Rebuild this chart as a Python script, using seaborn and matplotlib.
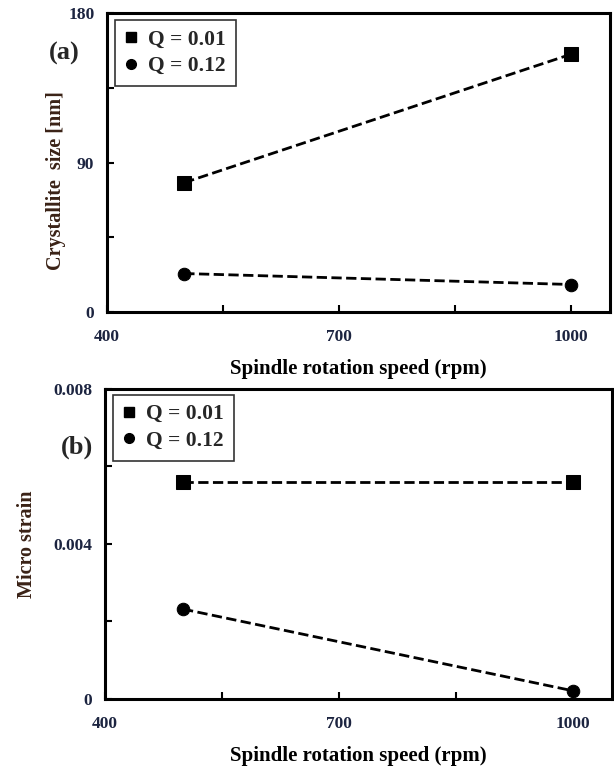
import matplotlib
matplotlib.use("Agg")
import matplotlib.pyplot as plt
from matplotlib.lines import Line2D
import pandas as pd
import seaborn as sns

# data
speed = [500, 1000]
series_labels = ["Q = 0.01", "Q = 0.12"]
crystallite_q001 = [78.0, 155.3]
crystallite_q012 = [23.3, 16.7]
strain_q001 = [0.00561, 0.00561]
strain_q012 = [0.00232, 0.00021]

x_ticks = [400, 700, 1000]
x_minor = [550, 850]
top_ticks = [0, 90, 180]
top_minor = [45, 135]
bot_ticks = [0, 0.004, 0.008]
bot_minor = [0.002, 0.006]
bot_tick_labels = ["0", "0.004", "0.008"]

TICK_COLOR = "#1c2440"
LABEL_COLOR = "#3a2216"


def build_frame(a, b):
    return pd.DataFrame({
        "speed": speed * 2,
        "value": a + b,
        "series": [series_labels[0]] * len(speed) + [series_labels[1]] * len(speed),
    })


def draw_panel(ax, frame, yticks, yminor, ylim, ylabels, ylabel, tag, tag_pos, ylabel_pos, leg_anchor):
    markers = {series_labels[0]: "s", series_labels[1]: "o"}
    sizes = {series_labels[0]: 10, series_labels[1]: 9}
    for name, grp in frame.groupby("series", sort=False):
        sns.lineplot(data=grp, x="speed", y="value", ax=ax, color="black",
                     linestyle="--", linewidth=2, marker=markers[name],
                     markersize=sizes[name], markeredgecolor="black")
    ax.set_xlim(400, 1050)
    ax.set_ylim(*ylim)
    ax.set_xticks(x_ticks)
    ax.set_xticks(x_minor, minor=True)
    ax.set_yticks(yticks)
    ax.set_yticklabels(ylabels)
    ax.set_yticks(yminor, minor=True)
    ax.tick_params(axis="both", which="both", direction="in", width=1.5, length=5,
                   bottom=True, left=True, top=False, right=False,
                   labelsize=12.5, colors="black", labelcolor=TICK_COLOR)
    ax.tick_params(axis="x", which="major", pad=12)
    ax.tick_params(axis="y", which="major", pad=9)
    for lab in ax.get_xticklabels() + ax.get_yticklabels():
        lab.set_fontweight("bold")
    for sp in ax.spines.values():
        sp.set_visible(True)
        sp.set_color("black")
        sp.set_linewidth(2.2)
    ax.set_xlabel("Spindle rotation speed (rpm)", fontsize=15, fontweight="bold",
                  color="black", labelpad=10)
    ax.set_ylabel(ylabel, fontsize=14.5, fontweight="bold", color=LABEL_COLOR)
    ax.yaxis.set_label_coords(*ylabel_pos)
    ax.grid(False)
    handles = [
        Line2D([], [], color="black", marker="s", linestyle="none", markersize=7),
        Line2D([], [], color="black", marker="o", linestyle="none", markersize=7),
    ]
    leg = ax.legend(handles, series_labels, loc="upper left", frameon=True,
                    fancybox=False, edgecolor="black", fontsize=15.5,
                    handlelength=0.6, handletextpad=0.5, borderpad=0.45,
                    labelspacing=0.3, borderaxespad=0, bbox_to_anchor=leg_anchor)
    leg.get_frame().set_linewidth(1.2)
    for t in leg.get_texts():
        t.set_fontweight("bold")
    ax.text(tag_pos[0], tag_pos[1], tag, transform=ax.transAxes, fontsize=19,
            fontweight="bold", ha="center", va="center")


sns.set_theme(style="white")
plt.rcParams["font.family"] = ["Liberation Serif", "DejaVu Serif"]

fig = plt.figure(figsize=(6.14, 7.71), dpi=100)
ax_top = fig.add_axes([0.174, 0.595, 0.8195, 0.388])
ax_bot = fig.add_axes([0.171, 0.0934, 0.826, 0.4021])

draw_panel(ax_top, build_frame(crystallite_q001, crystallite_q012), top_ticks, top_minor,
           (0, 180), [str(t) for t in top_ticks], "Crystallite  size [nm]", "(a)",
           (-0.085, 0.866), (-0.082, 0.44), (0.016, 0.977))
draw_panel(ax_bot, build_frame(strain_q001, strain_q012), bot_ticks, bot_minor,
           (0, 0.008), bot_tick_labels, "Micro strain", "(b)", (-0.055, 0.813),
           (-0.135, 0.5), (0.016, 0.982))

fig.savefig("out.png", dpi=100)
